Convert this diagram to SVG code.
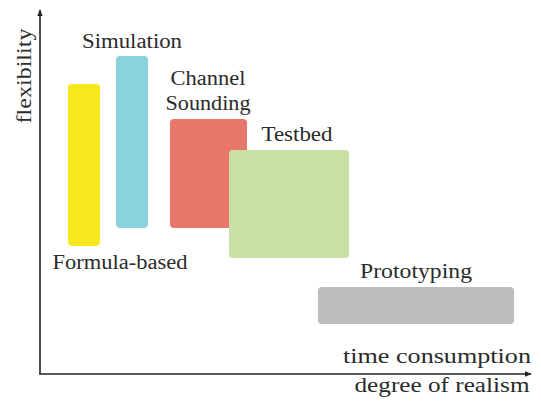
<svg xmlns="http://www.w3.org/2000/svg" width="541" height="401" viewBox="0 0 541 401">
<style>
.lbl{font-family:'Liberation Serif','DejaVu Serif',serif;font-size:20px;fill:#2b2b2b;text-anchor:middle}
.ax{stroke:#222;stroke-width:1.6;fill:none}
</style>
<defs>
<marker id="arr" viewBox="0 0 10 10" refX="9" refY="5" markerWidth="7" markerHeight="7" markerUnits="userSpaceOnUse" orient="auto">
<path d="M0,1 L10,5 L0,9 Z" fill="#222"/>
</marker>
</defs>
<rect width="541" height="401" fill="#fff"/>
<g id="axes">
<path class="ax" d="M40,374 L40,10" marker-end="url(#arr)"/>
<path class="ax" d="M39.2,374 L531,374" marker-end="url(#arr)"/>
<text class="lbl" font-family="'DejaVu Serif', serif" transform="translate(31,76) rotate(-90)" textLength="95" lengthAdjust="spacingAndGlyphs">flexibility</text>
<text class="lbl" x="437" y="363" textLength="188" lengthAdjust="spacingAndGlyphs">time consumption</text>
<text class="lbl" x="442" y="392" textLength="175" lengthAdjust="spacingAndGlyphs">degree of realism</text>
</g>
<g id="formula-based">
<rect x="68" y="84" width="32" height="162" rx="4" fill="#f8e81e"/>
<text class="lbl" x="120" y="269" textLength="135" lengthAdjust="spacingAndGlyphs">Formula-based</text>
</g>
<g id="simulation">
<rect x="116" y="56" width="32" height="172" rx="4" fill="#88d3dc"/>
<text class="lbl" x="132" y="48" textLength="100" lengthAdjust="spacingAndGlyphs">Simulation</text>
</g>
<g id="channel-sounding">
<rect x="170" y="119" width="77" height="109" rx="4" fill="#e9766b"/>
<text class="lbl" x="208" y="85" textLength="75" lengthAdjust="spacingAndGlyphs">Channel</text>
<text class="lbl" x="208" y="110" textLength="85" lengthAdjust="spacingAndGlyphs">Sounding</text>
</g>
<g id="testbed">
<rect x="229" y="150" width="120" height="108" rx="4" fill="#c8e0a3"/>
<text class="lbl" x="297" y="141" textLength="71" lengthAdjust="spacingAndGlyphs">Testbed</text>
</g>
<g id="prototyping">
<rect x="318" y="287" width="196" height="37" rx="4" fill="#bcbcbc"/>
<text class="lbl" x="416" y="278" textLength="112" lengthAdjust="spacingAndGlyphs">Prototyping</text>
</g>
</svg>
